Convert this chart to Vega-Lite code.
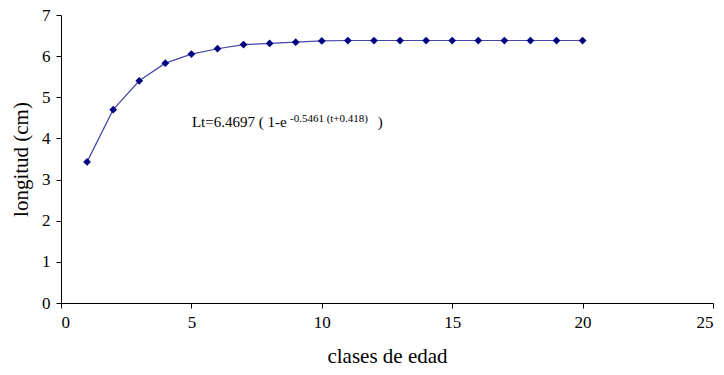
{
  "$schema": "https://vega.github.io/schema/vega-lite/v6.json",
  "width": 652,
  "height": 288,
  "autosize": {"type": "none"},
  "padding": {"left": 61, "top": 15, "right": 11, "bottom": 72},
  "background": "white",
  "config": {
    "view": {"stroke": null},
    "font": "Liberation Serif, Times New Roman, serif",
    "text": {"font": "Liberation Serif, Times New Roman, serif"},
    "axis": {
      "grid": false,
      "domainColor": "#000000",
      "tickColor": "#000000",
      "domainWidth": 1,
      "tickWidth": 1,
      "tickSize": 5,
      "labelFont": "Liberation Serif, Times New Roman, serif",
      "labelFontSize": 17,
      "labelColor": "#000000",
      "titleFont": "Liberation Serif, Times New Roman, serif",
      "titleFontSize": 21,
      "titleFontWeight": "normal",
      "titleColor": "#000000"
    }
  },
  "datasets": {
    "growth": [
      {"clase": 1, "longitud": 3.43},
      {"clase": 2, "longitud": 4.7},
      {"clase": 3, "longitud": 5.4},
      {"clase": 4, "longitud": 5.83},
      {"clase": 5, "longitud": 6.05},
      {"clase": 6, "longitud": 6.18},
      {"clase": 7, "longitud": 6.28},
      {"clase": 8, "longitud": 6.31},
      {"clase": 9, "longitud": 6.34},
      {"clase": 10, "longitud": 6.37},
      {"clase": 11, "longitud": 6.38},
      {"clase": 12, "longitud": 6.38},
      {"clase": 13, "longitud": 6.38},
      {"clase": 14, "longitud": 6.38},
      {"clase": 15, "longitud": 6.38},
      {"clase": 16, "longitud": 6.38},
      {"clase": 17, "longitud": 6.38},
      {"clase": 18, "longitud": 6.38},
      {"clase": 19, "longitud": 6.38},
      {"clase": 20, "longitud": 6.38}
    ]
  },
  "layer": [
    {
      "data": {"name": "growth"},
      "mark": {"type": "line", "stroke": "#4646a8", "strokeWidth": 1.2},
      "encoding": {
        "x": {
          "field": "clase", "type": "quantitative",
          "scale": {"domain": [0, 25], "nice": false},
          "axis": {"values": [0, 5, 10, 15, 20, 25], "title": "clases de edad", "labelPadding": 6, "titlePadding": 15}
        },
        "y": {
          "field": "longitud", "type": "quantitative",
          "scale": {"domain": [0, 7], "nice": false},
          "axis": {"values": [0, 1, 2, 3, 4, 5, 6, 7], "title": "longitud (cm)", "labelPadding": 6, "titlePadding": 10}
        }
      }
    },
    {
      "data": {"name": "growth"},
      "mark": {"type": "point", "shape": "diamond", "filled": true, "fill": "#000080", "size": 60, "opacity": 1},
      "encoding": {
        "x": {"field": "clase", "type": "quantitative"},
        "y": {"field": "longitud", "type": "quantitative"}
      }
    },
    {
      "data": {"values": [{"x": 5.02, "y": 4.28, "t": "Lt=6.4697 ( 1-e"}]},
      "mark": {"type": "text", "align": "left", "baseline": "alphabetic", "fontSize": 15, "color": "#000000"},
      "encoding": {
        "x": {"field": "x", "type": "quantitative"},
        "y": {"field": "y", "type": "quantitative"},
        "text": {"field": "t"}
      }
    },
    {
      "data": {"values": [{"x": 8.78, "y": 4.4, "t": "-0.5461 (t+0.418)"}]},
      "mark": {"type": "text", "align": "left", "baseline": "alphabetic", "fontSize": 11, "color": "#000000"},
      "encoding": {
        "x": {"field": "x", "type": "quantitative"},
        "y": {"field": "y", "type": "quantitative"},
        "text": {"field": "t"}
      }
    },
    {
      "data": {"values": [{"x": 12.15, "y": 4.28, "t": ")"}]},
      "mark": {"type": "text", "align": "left", "baseline": "alphabetic", "fontSize": 15, "color": "#000000"},
      "encoding": {
        "x": {"field": "x", "type": "quantitative"},
        "y": {"field": "y", "type": "quantitative"},
        "text": {"field": "t"}
      }
    }
  ]
}
